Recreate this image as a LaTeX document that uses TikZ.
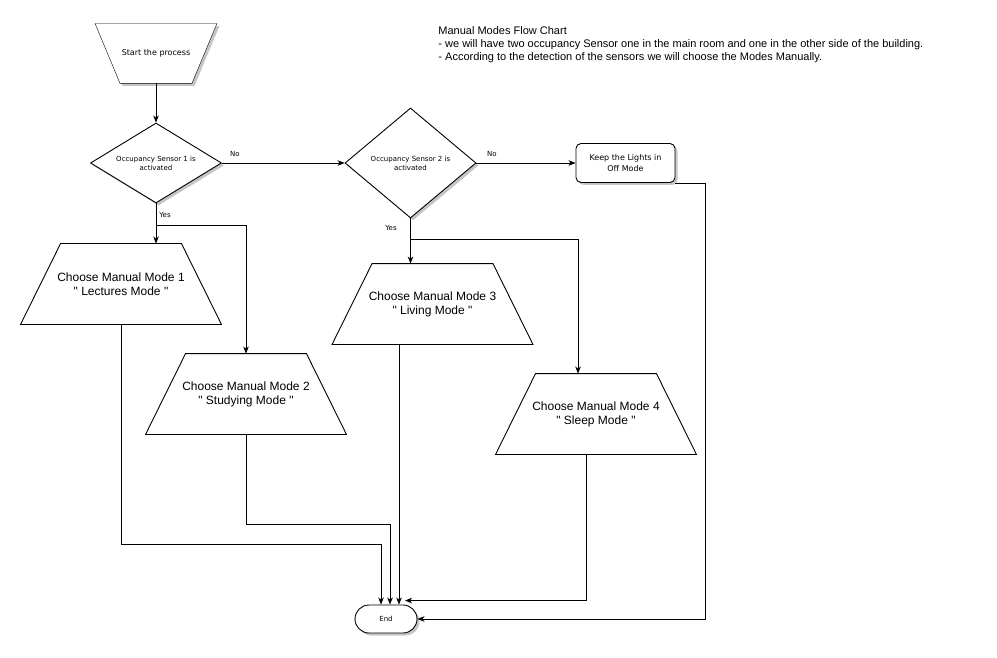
\documentclass[tikz,border=0pt]{standalone}
\usepackage{fontspec}
\setmainfont{Liberation Sans}
\newfontfamily\modefont{Liberation Sans}
\newfontfamily\smallfont{DejaVu Sans}
\usetikzlibrary{shapes.geometric,shadows,arrows.meta,backgrounds}

\begin{document}
\begin{tikzpicture}[x=1pt,y=-1pt,
  line width=0.9pt,
  arr/.style={-{Stealth[length=7pt,width=5.5pt,inset=2pt]}},
  softshadow/.style={drop shadow={shadow xshift=2.5pt,shadow yshift=-2.5pt,fill=black!45,opacity=0.5}},
  lbl/.style={font=\smallfont\fontsize{7}{8.5}\selectfont,inner sep=0pt},
  decision/.style={diamond,draw,fill=white,softshadow,inner sep=0pt,align=center,
    font=\smallfont\fontsize{7}{9}\selectfont},
  modebox/.style={minimum width=200pt,minimum height=80pt,inner sep=0pt,align=center,
    font=\modefont\fontsize{12}{14}\selectfont},
  header/.style={anchor=base west,inner sep=0pt,font=\fontsize{11}{13}\selectfont},
]
\useasboundingbox (0,0) rectangle (997,658);

% notes
\node[header] (hdr1) at (438,34.5) {Manual Modes Flow Chart};
\node[header] (hdr2) at (438,48) {- we will have two occupancy Sensor one in the main room and one in the other side of the building.};
\node[header] (hdr3) at (438,61) {- According to the detection of the sensors we will choose the Modes Manually.};

% start (inverted trapezoid)
\node[minimum width=121pt,minimum height=59pt,inner sep=0pt,
      font=\smallfont\fontsize{8}{10}\selectfont] (st) at (156,53.5) {Start the process};
\begin{scope}[on background layer]
  \filldraw[fill=white,softshadow] (st.north west) -- (st.north east)
    -- ([xshift=-25pt]st.south east) -- ([xshift=25pt]st.south west) -- cycle;
\end{scope}

% decisions
\node[decision,minimum width=131pt,minimum height=80pt,aspect=1.64] (d1) at (156,163)
  {Occupancy Sensor 1 is\\activated};
\node[decision,minimum width=131pt,minimum height=110pt,aspect=1.19] (d2) at (410.5,163)
  {Occupancy Sensor 2 is\\activated};

% lights off
\node[draw,rounded corners=5pt,fill=white,softshadow,minimum width=99pt,minimum height=39pt,
      inner sep=0pt,align=center,font=\smallfont\fontsize{8}{10.5}\selectfont] (keep) at (625.5,163)
  {Keep the Lights in\\Off Mode};

% manual modes
\node[modebox] (m1) at (121,284) {Choose Manual Mode 1\\" Lectures Mode "};
\node[modebox] (m2) at (246,394) {Choose Manual Mode 2\\" Studying Mode "};
\node[modebox] (m3) at (432.5,304) {Choose Manual Mode 3\\" Living Mode "};
\node[modebox] (m4) at (596,414) {Choose Manual Mode 4\\" Sleep Mode "};
\foreach \m in {m1,m2,m3,m4}
  \draw (\m.south west) -- ([xshift=40pt]\m.north west)
    -- ([xshift=-40pt]\m.north east) -- (\m.south east) -- cycle;

% end
\node[draw,rounded corners=14pt,fill=white,softshadow,minimum width=62pt,minimum height=28pt,
      inner sep=0pt,font=\smallfont\fontsize{7}{8.5}\selectfont] (end) at (386,619) {End};

% labels
\node[lbl] (no1) at (235,154) {No};
\node[lbl] (no2) at (492,154) {No};
\node[lbl] (yes1) at (165,215) {Yes};
\node[lbl] (yes2) at (391,228) {Yes};

% flow
\draw[arr] (st.south) -- (d1.north);
\draw[arr] (d1.east) -- (d2.west);
\draw[arr] (d2.east) -- (keep.west);

\draw[arr] (d1.south) -- (d1.south |- m1.north);
\path (d1.south) ++(0,22) coordinate (j1);
\draw[arr] (j1) -| (m2.north);

\draw[arr] (d2.south) -- (d2.south |- m3.north);
\path (d2.south) ++(0,21) coordinate (j2);
\draw[arr] (j2) -| ([xshift=-18pt]m4.north);

% into end
\draw[arr] (m1.south) -- ++(0,220) -| ([xshift=-5pt]end.north);
\draw[arr] (m2.south) -- ++(0,90) -| ([xshift=4pt]end.north);
\draw[arr] ([xshift=-33.5pt]m3.south) -- ([xshift=-33.5pt]m3.south |- end.north);
\draw[arr] ([xshift=-10pt]m4.south) |- ([xshift=19pt,yshift=4pt]end.north);
\draw[arr] ([yshift=-1pt]keep.south east) -- ++(30,0) |- (end.east);
\end{tikzpicture}
\end{document}
